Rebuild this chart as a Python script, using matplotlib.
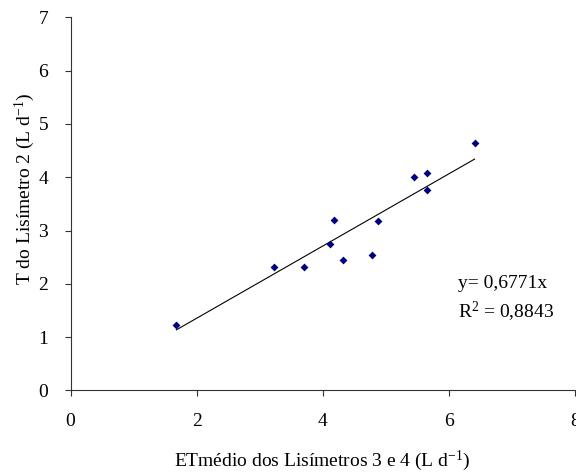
import matplotlib
matplotlib.use('Agg')
import matplotlib.pyplot as plt
import numpy as np

plt.rcParams['font.family'] = ['Liberation Serif', 'DejaVu Serif']
plt.rcParams['mathtext.fontset'] = 'custom'
plt.rcParams['mathtext.rm'] = 'Liberation Serif'
plt.rcParams['mathtext.it'] = 'Liberation Serif:italic'

# dados
et_medio = [1.68, 3.23, 3.71, 4.11, 4.18, 4.33, 4.78, 4.88, 5.45, 5.66, 5.66, 6.41]
t_lis2 = [1.22, 2.31, 2.31, 2.74, 3.20, 2.45, 2.55, 3.18, 4.01, 4.08, 3.77, 4.64]
coef = 0.6771
r2 = 0.8843
xticks = [0, 2, 4, 6, 8]
yticks = [0, 1, 2, 3, 4, 5, 6, 7]

fig = plt.figure(figsize=(5.76, 4.72), dpi=100)
ax = fig.add_axes([0.1224, 0.1727, 0.8755, 0.7906])

ax.scatter(et_medio, t_lis2, marker='D', s=16, color='#000080', zorder=3, linewidths=0)
xl = np.array([min(et_medio), max(et_medio)])
ax.plot(xl, coef * xl, color='black', lw=0.8)

ax.set_xlim(0, 8)
ax.set_ylim(0, 7)
ax.set_xticks(xticks)
ax.set_yticks(yticks)
for s in ['top', 'right']:
    ax.spines[s].set_visible(False)
for s in ['left', 'bottom']:
    ax.spines[s].set_linewidth(0.8)
    ax.spines[s].set_color('#333333')
ax.tick_params(axis='x', direction='out', length=4, width=0.8, pad=12, labelsize=14, color='#333333')
ax.tick_params(axis='y', direction='out', length=4, width=0.8, pad=12, labelsize=14, color='#333333')

ax.set_xlabel(r'ETmédio dos Lisímetros 3 e 4 (L d$^{-1}$)', fontsize=14)
ax.set_ylabel(r'T do Lisímetro 2 (L d$^{-1}$)', fontsize=14)
ax.xaxis.set_label_coords(0.5, -0.155)
ax.yaxis.set_label_coords(-0.066, 0.54)

ax.text(6.14, 2.0, 'y= ' + f'{coef:.4f}'.replace('.', ',') + 'x',
        fontsize=14, va='center', ha='left')
ax.text(6.14, 1.48, r'R$^{2}$ = ' + f'{r2:.4f}'.replace('.', ','),
        fontsize=14, va='center', ha='left')

fig.savefig('out.png', dpi=100)
